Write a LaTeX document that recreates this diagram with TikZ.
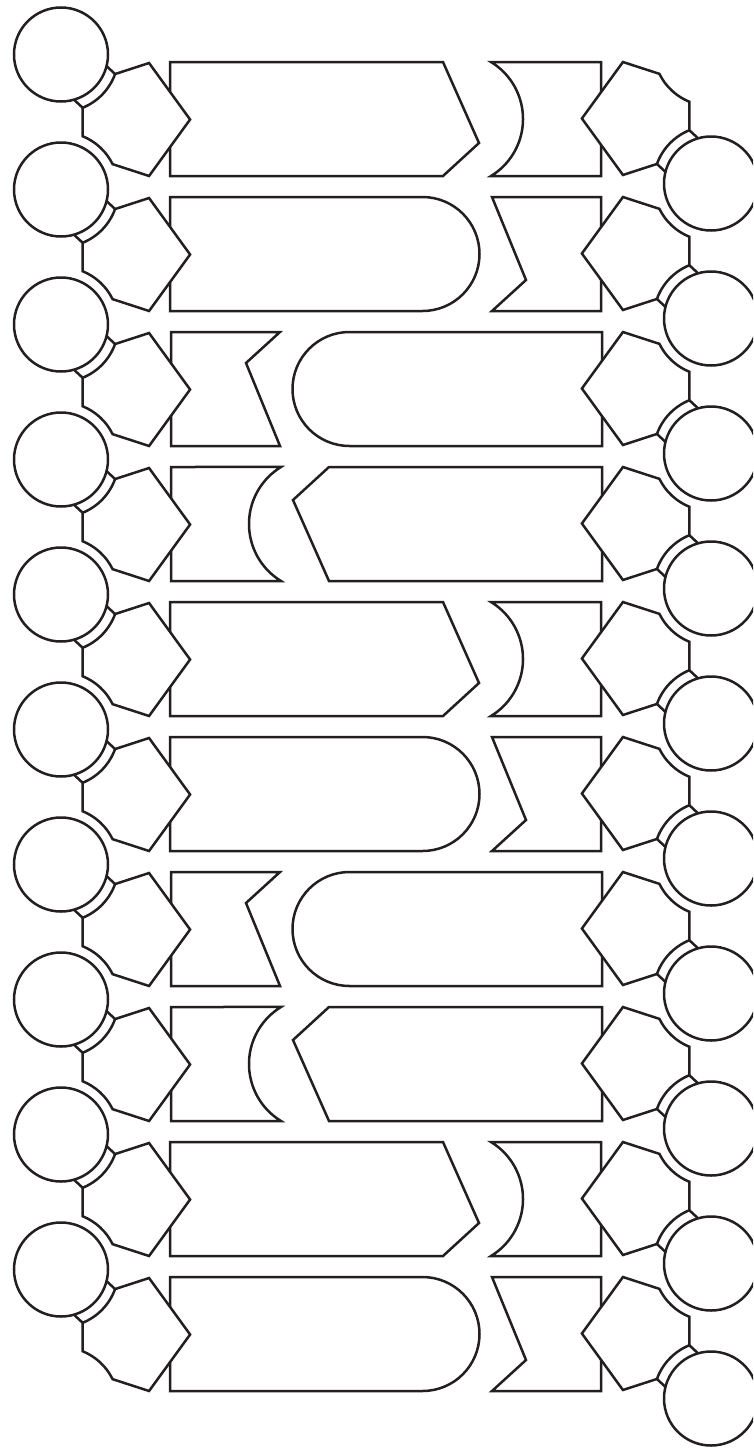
\documentclass[tikz,border=0pt]{standalone}
\usepackage{tikz}
\usepackage{xcolor}
\usetikzlibrary{calc}
\definecolor{strandgray}{RGB}{35, 31, 32}

\begin{document}
\begin{tikzpicture}[
    x=1pt, y=-1pt,
    line width=2.5pt, color=strandgray,
    outline/.style={draw=strandgray, fill=white},
    pics/nucleo/.style={code={
        \draw[outline] (61,-7.5) circle[radius=47];
        \draw (106.55,4.1) -- (115.07,12.05) (73.96,37.67) -- (82.64,45.77);
        \draw[outline] (149.06,1.01) -- (115.07,12.05) arc[start angle=19.88, end angle=67.89, radius=57.5]
            -- (82.64,74.23) arc[start angle=-67.89, end angle=-26.16, radius=57.5]
            -- (149.06,113.99) -- (190.1,57.5) -- cycle;
    }},
    pics/pairA/.style={code={
        \draw[outline] (170,0) -- (443,0) -- (479,81) -- (443,114) -- (170,114) -- cycle;
        \draw[outline] (491,0) arc[start angle=-58.6, end angle=58.6, radius=66.8] -- (601,114) -- (601,0) -- cycle;
    }},
    pics/pairB/.style={code={
        \draw[outline] (170,0) -- (422.5,0) arc[start angle=-90, end angle=90, radius=57] -- (170,114) -- cycle;
        \draw[outline] (492,0) -- (526,83) -- (492,114) -- (601,114) -- (601,0) -- cycle;
    }}
]
\useasboundingbox (0,0) rectangle (753,1448);
\clip (0,0) rectangle (753,1448);

% Base pairs with both backbones
\foreach \k/\kind/\turn in {0/pairA/0, 1/pairB/0, 2/pairB/180, 3/pairA/180, 4/pairA/0,
                            5/pairB/0, 6/pairB/180, 7/pairA/180, 8/pairA/0, 9/pairB/0} {
    \begin{scope}[shift={(0,62+135*\k)}]
        \pic[rotate around={\turn:(386,57)}] at (0,0) {\kind};
        \pic at (0,0) {nucleo};
        \pic[rotate around={180:(386,57)}] at (0,0) {nucleo};
    \end{scope}
}

\end{tikzpicture}
\end{document}
